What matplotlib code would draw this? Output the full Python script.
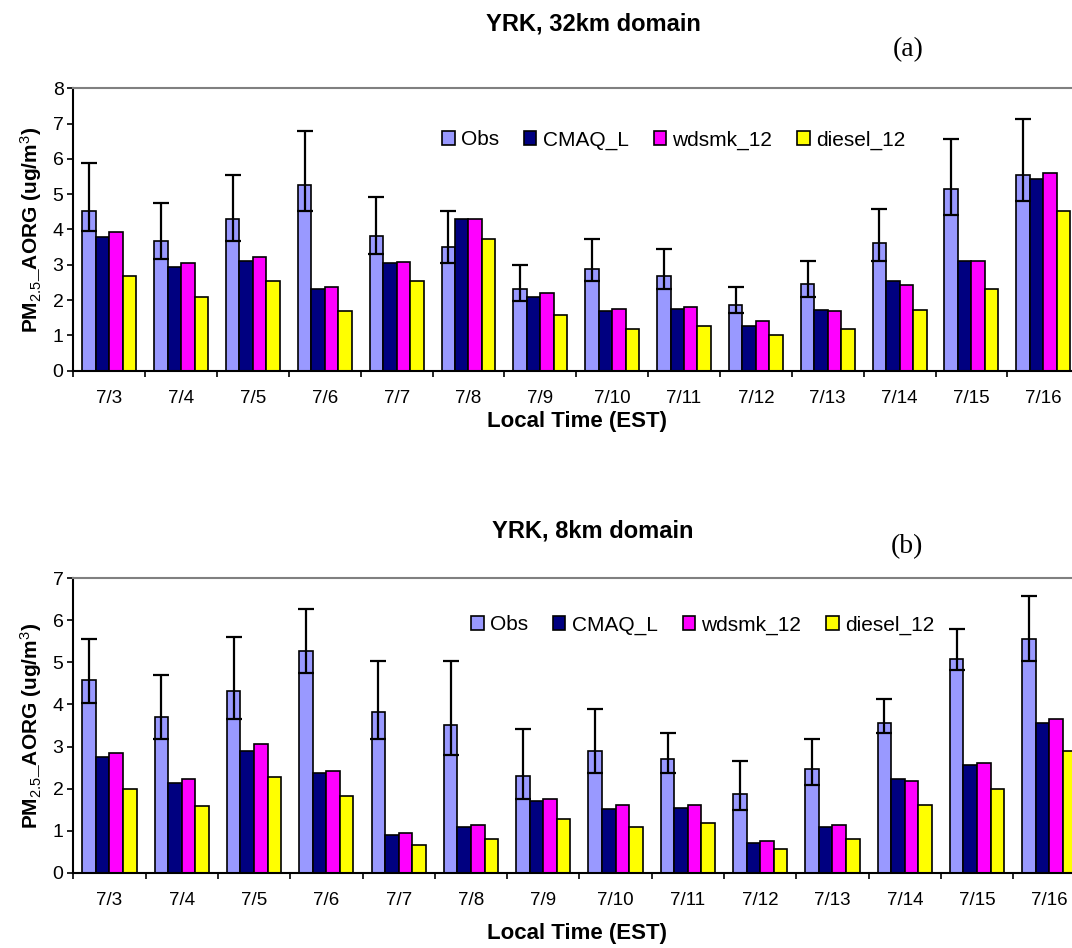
import numpy as np
import matplotlib
matplotlib.use("Agg")
import matplotlib.pyplot as plt

plt.rcParams['font.family'] = ['Liberation Sans', 'DejaVu Sans']
plt.rcParams['mathtext.fontset'] = 'custom'
plt.rcParams['mathtext.rm'] = 'Liberation Sans'
plt.rcParams['mathtext.default'] = 'rm'

dates = ["7/3", "7/4", "7/5", "7/6", "7/7", "7/8", "7/9", "7/10",
         "7/11", "7/12", "7/13", "7/14", "7/15", "7/16"]
series_names = ["Obs", "CMAQ_L", "wdsmk_12", "diesel_12"]
colors = ["#9999FF", "#000080", "#FF00FF", "#FFFF00"]

# 32km domain
obs_32 = [4.53, 3.68, 4.31, 5.26, 3.83, 3.51, 2.32, 2.89, 2.69, 1.85, 2.47, 3.61, 5.14, 5.55]
obs_32_hi = [5.89, 4.75, 5.54, 6.79, 4.93, 4.53, 3.00, 3.74, 3.45, 2.38, 3.11, 4.59, 6.56, 7.13]
obs_32_lo = [3.97, 3.16, 3.68, 4.52, 3.30, 3.06, 1.98, 2.54, 2.32, 1.64, 2.10, 3.11, 4.42, 4.81]
cmaq_32 = [3.80, 2.95, 3.12, 2.32, 3.04, 4.31, 2.10, 1.70, 1.76, 1.28, 1.71, 2.53, 3.10, 5.44]
wdsmk_32 = [3.94, 3.04, 3.22, 2.37, 3.09, 4.31, 2.19, 1.76, 1.81, 1.40, 1.68, 2.42, 3.12, 5.59]
diesel_32 = [2.69, 2.09, 2.53, 1.70, 2.53, 3.74, 1.57, 1.19, 1.28, 1.00, 1.19, 1.71, 2.32, 4.51]

# 8km domain
obs_8 = [4.57, 3.70, 4.31, 5.27, 3.83, 3.51, 2.31, 2.90, 2.71, 1.86, 2.46, 3.57, 5.09, 5.55]
obs_8_hi = [5.56, 4.70, 5.61, 6.27, 5.04, 5.04, 3.42, 3.90, 3.32, 2.66, 3.18, 4.14, 5.80, 6.57]
obs_8_lo = [4.04, 3.18, 3.66, 4.74, 3.18, 2.81, 1.75, 2.38, 2.38, 1.48, 2.09, 3.32, 4.81, 5.04]
cmaq_8 = [2.74, 2.14, 2.90, 2.36, 0.89, 1.09, 1.70, 1.52, 1.55, 0.71, 1.09, 2.22, 2.57, 3.55]
wdsmk_8 = [2.85, 2.22, 3.05, 2.43, 0.94, 1.13, 1.76, 1.60, 1.62, 0.75, 1.13, 2.19, 2.60, 3.65]
diesel_8 = [1.99, 1.59, 2.28, 1.83, 0.65, 0.81, 1.27, 1.09, 1.17, 0.57, 0.81, 1.60, 1.98, 2.89]

W, H = 1072, 948
fig = plt.figure(figsize=(W / 100, H / 100), dpi=100)


def fx(x):
    return x / W


def fy(y):
    return 1 - y / H


def panel(px_left, px_right, px_top, px_bottom, obs, lo, hi, cmaq, wdsmk,
          diesel, ymax, legend_xy, xlabel_xy):
    ax = fig.add_axes([fx(px_left), fy(px_bottom), fx(px_right - px_left),
                       (px_bottom - px_top) / H])
    n = len(dates)
    x0 = np.arange(n)
    bw = 0.1875
    values = [obs, cmaq, wdsmk, diesel]
    handles = []
    for k, (vals, c, name) in enumerate(zip(values, colors, series_names)):
        xc = x0 + 0.125 + bw * (k + 0.5)
        h = ax.bar(xc, vals, width=bw, color=c, edgecolor="black",
                   linewidth=1.2, label=name, zorder=2)
        handles.append(h)
        if k == 0:
            obs_arr = np.asarray(obs)
            yerr = [obs_arr - np.asarray(lo), np.asarray(hi) - obs_arr]
            ax.errorbar(xc, obs_arr, yerr=yerr, fmt="none", ecolor="black",
                        elinewidth=1.6, capsize=5.5, capthick=1.6, zorder=3)
    ax.set_xlim(0, n)
    ax.set_ylim(0, ymax)
    ax.set_yticks(range(0, ymax + 1))
    # group boundaries carry the tick marks, group centres carry the dates
    ax.set_xticks(np.arange(n + 1))
    ax.set_xticklabels([])
    ax.set_xticks(x0 + 0.5, minor=True)
    ax.set_xticklabels(dates, minor=True)
    ax.tick_params(axis="x", which="major", length=4, width=1.2, direction="out")
    ax.tick_params(axis="x", which="minor", length=0, pad=14, labelsize=13.5)
    ax.tick_params(axis="y", length=4, width=1.2, direction="out",
                   labelsize=14, pad=3)
    for s in ("left", "bottom"):
        ax.spines[s].set_linewidth(1.5)
        ax.spines[s].set_color("black")
    ax.spines["top"].set_color("#808080")
    ax.spines["top"].set_linewidth(1.5)
    ax.spines["right"].set_visible(False)
    ax.set_ylabel(r"PM$_{2.5}$_AORG (ug/m$^{3}$)", fontsize=15,
                  fontweight="bold", labelpad=6)
    ax.set_xlabel("Local Time (EST)", fontsize=16, fontweight="bold")
    ax.xaxis.set_label_coords(
        (xlabel_xy[0] - px_left) / (px_right - px_left),
        (px_bottom - xlabel_xy[1]) / (px_bottom - px_top))
    ax.xaxis.label.set_va("center")
    ax.legend(handles=handles, loc="center left",
              bbox_to_anchor=(fx(legend_xy[0]), fy(legend_xy[1])),
              bbox_transform=fig.transFigure, ncol=4, frameon=False,
              fontsize=15, handlelength=0.6, handleheight=0.6,
              handletextpad=0.3, columnspacing=1.2, borderpad=0,
              borderaxespad=0)
    return ax


ax1 = panel(73.3, 1079.2, 88.3, 370.7, obs_32, obs_32_lo, obs_32_hi,
            cmaq_32, wdsmk_32, diesel_32, 8, (442, 140), (577, 421))
ax2 = panel(73.3, 1085.5, 578.3, 872.7, obs_8, obs_8_lo, obs_8_hi,
            cmaq_8, wdsmk_8, diesel_8, 7, (471, 625), (577, 934))

fig.text(fx(593), fy(24), "YRK, 32km domain", ha="center", va="center",
         fontsize=17, fontweight="bold")
fig.text(fx(593), fy(531), "YRK, 8km domain", ha="center", va="center",
         fontsize=17, fontweight="bold")
fig.text(fx(908), fy(50), "(a)", ha="center", va="center", fontsize=20,
         family=["Liberation Serif", "DejaVu Serif"])
fig.text(fx(907), fy(547), "(b)", ha="center", va="center", fontsize=20,
         family=["Liberation Serif", "DejaVu Serif"])

fig.savefig("out.png", dpi=100)
